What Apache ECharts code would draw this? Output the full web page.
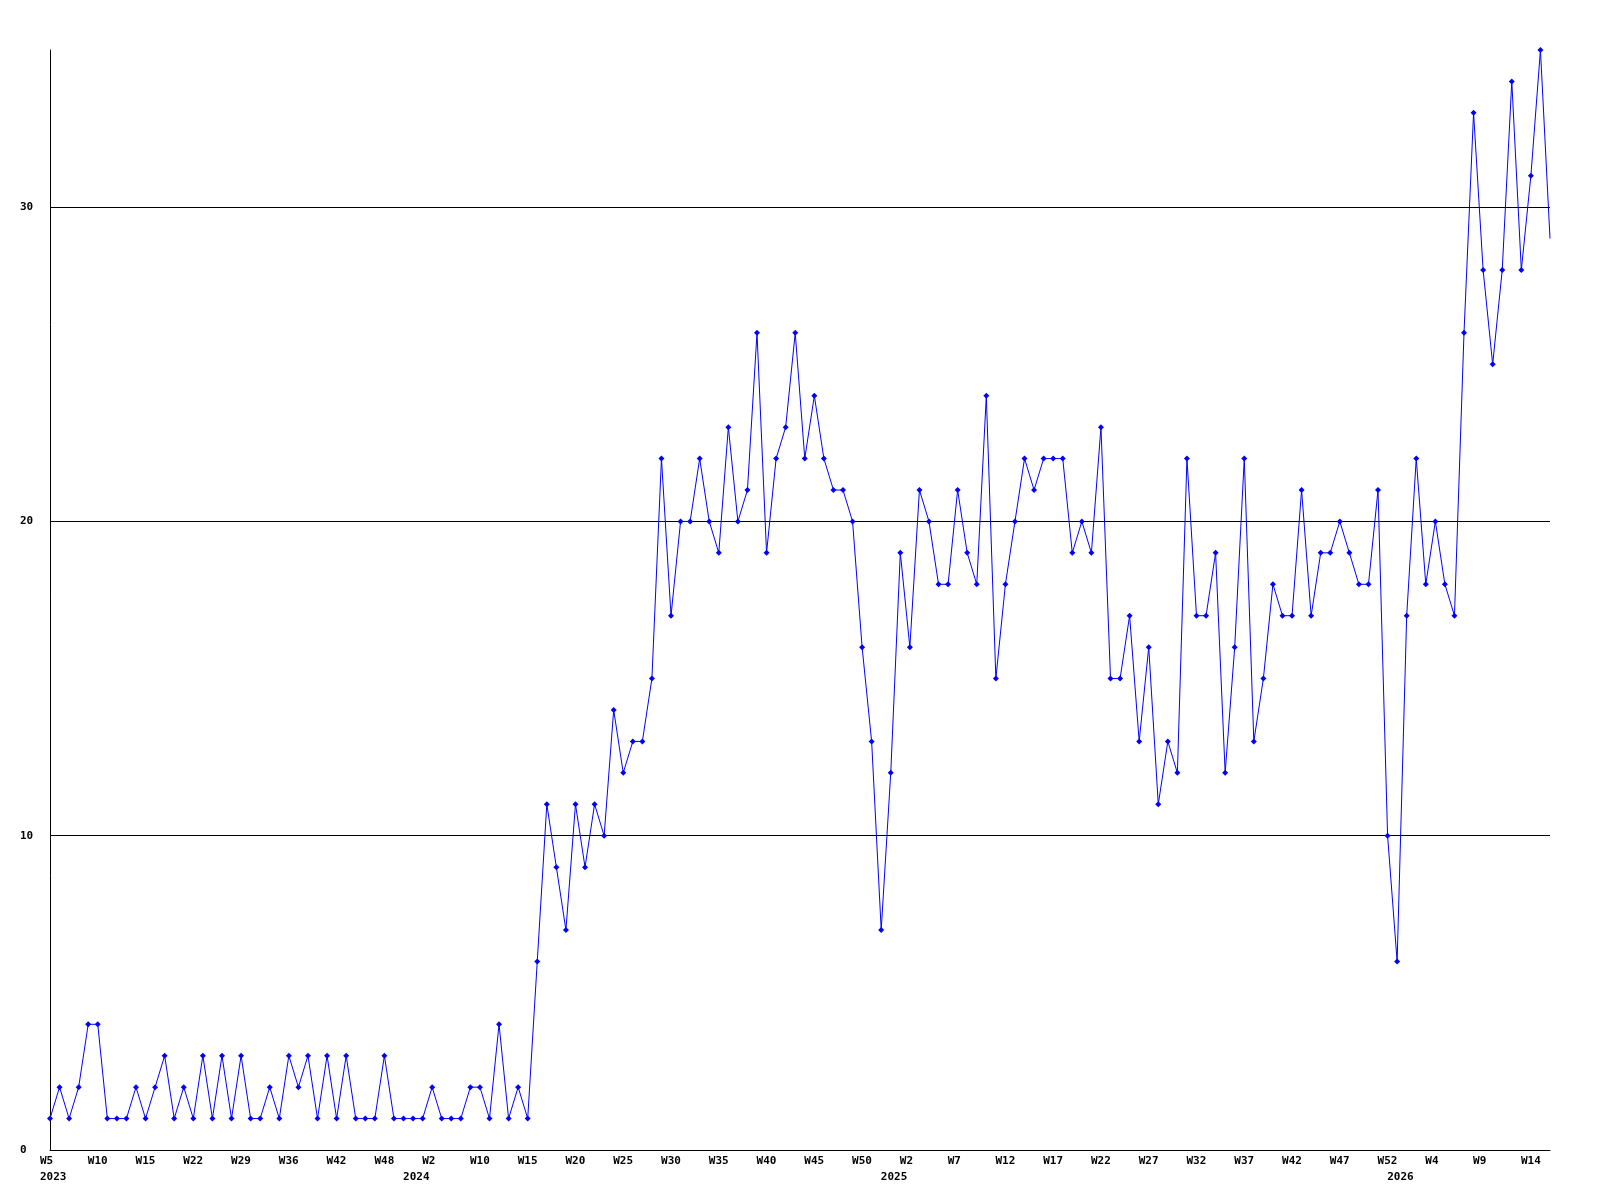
<!DOCTYPE html>
<html><head><meta charset="utf-8">
<script src="https://cdn.jsdelivr.net/npm/echarts@6/dist/echarts.min.js"></script>
<style>html,body{margin:0;padding:0;background:#fff}#c{width:1600px;height:1200px}</style>
</head><body><div id="c"></div><script>
// Week numbers present in the data, per year
const weeks2023 = [5,6,7,8,9,10,11,12,13,14,15,16,18,19,21,22,23,25,26,28,29,30,32,33,35,36,37,38,40,41,42,43,44,46,47,48,50,52];
const weeks2024 = [0,1,2,3,5,7,8,10,11,12,13,14,15,16,17,18,19,20,21,22,23,24,25,26,27,28,29,30,31,32,33,34,35,36,37,38,39,40,41,42,43,44,45,46,47,48,49,50,51,52];
const weeks2025 = [0,1,2,3,4,5,6,7,8,9,10,11,12,13,14,15,16,17,18,19,20,21,22,23,24,25,26,27,28,29,30,31,32,33,34,35,36,37,38,39,40,41,42,43,44,45,46,47,48,49,50,51,52];
const weeks2026 = [0,1,2,3,4,5,6,7,8,9,10,11,12,13,14,15,16];

const values = [
  1,2,1,2,4,4,1,1,1,2, 1,2,3,1,2,1,3,1,3,1, 3,1,1,2,1,3,2,3,1,3,
  1,3,1,1,1,3,1,1,1,1, 2,1,1,1,2,2,1,4,1,2, 1,
  6,11,9,7,11,9,11,10,14,12,13,13,15,
  22,17,20,20,22,20,19,23,20,21,26,19,22,23,26,22,24,22,21,21,20,16,13,7,
  12,19,16,21,20,18,18,21,19,18,24,15,18,20,22,21,22,22,22,19,20,19,23,15,15,17,13,16,11,13,12,22,17,17,19,12,16,
  22,13,15,18,17,17,21,17,19,19,20,19,18,18,21,10,6,17,22,18,20,18,17,26,33,28,25,28,34,28,31,35,29
];

const yTicks = [0, 10, 20, 30];

// build categories "YYYY-Wn"
const categories = [];
const yearStart = new Set();
[[2023, weeks2023],[2024, weeks2024],[2025, weeks2025],[2026, weeks2026]].forEach(([y, ws]) => {
  yearStart.add(categories.length);
  ws.forEach(w => categories.push(y + '-W' + w));
});

const FONT = "'DejaVu Sans Mono', 'Liberation Mono', monospace";
const chart = echarts.init(document.getElementById('c'), null, {renderer: 'canvas'});
const lastIdx = values.length - 1;
chart.setOption({
  animation: false,
  backgroundColor: '#ffffff',
  grid: {left: 50, right: 50, top: 50, bottom: 50},
  xAxis: {
    type: 'category',
    data: categories,
    boundaryGap: false,
    axisLine: {lineStyle: {color: '#000', width: 1}},
    axisTick: {show: false},
    splitLine: {show: false},
    axisLabel: {
      margin: 3,
      align: 'center',
      interval: (i) => i % 5 === 0 || yearStart.has(i),
      formatter: (val, i) => {
        const [yr, wk] = val.split('-');
        let s = (i % 5 === 0) ? '{a|' + wk + '}' : '{a| }';
        if (yearStart.has(i)) s += '\n{a|' + yr + '}';
        return s;
      },
      rich: {
        a: {fontFamily: FONT, fontWeight: 'bold', fontSize: 11, lineHeight: 16, width: 20, align: 'left', color: '#000'}
      }
    }
  },
  yAxis: {
    type: 'value',
    min: 0, max: 35, interval: 10,
    axisLine: {show: true, lineStyle: {color: '#000', width: 1}},
    axisTick: {show: false},
    splitLine: {show: true, showMaxLine: false, lineStyle: {color: '#000', width: 1}},
    axisLabel: {
      showMaxLabel: false,
      align: 'left', margin: 30,
      fontFamily: FONT, fontWeight: 'bold', fontSize: 11, color: '#000',
      formatter: (v) => yTicks.includes(v) ? String(v) : ''
    }
  },
  series: [{
    type: 'line',
    data: values,
    symbol: (v, p) => p.dataIndex === lastIdx ? 'none' : 'diamond',
    symbolSize: 6,
    showAllSymbol: true,
    lineStyle: {color: '#0000ff', width: 1},
    itemStyle: {color: '#0000ff'},
    emphasis: {disabled: true},
    z: 3
  }]
});
</script></body></html>
